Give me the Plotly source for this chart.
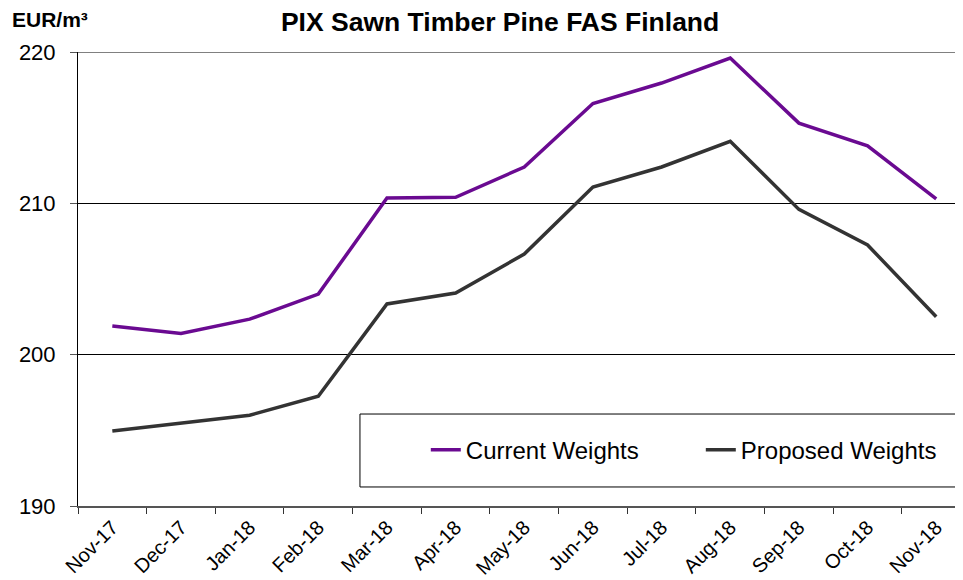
import plotly.graph_objects as go

months = ["Nov-17", "Dec-17", "Jan-18", "Feb-18", "Mar-18", "Apr-18", "May-18",
          "Jun-18", "Jul-18", "Aug-18", "Sep-18", "Oct-18", "Nov-18"]
current_weights = [201.9, 201.4, 202.35, 204.0, 210.35, 210.4, 212.4,
                   216.6, 217.95, 219.6, 215.3, 213.8, 210.3]
proposed_weights = [194.95, 195.5, 196.0, 197.25, 203.35, 204.07, 206.65,
                    211.08, 212.4, 214.1, 209.6, 207.25, 202.5]
y_ticks = [190, 200, 210, 220]

FONT = "Liberation Sans, Arial, sans-serif"

fig = go.Figure()
fig.add_trace(go.Scatter(x=months, y=current_weights, mode="lines",
                         name="Current Weights",
                         line=dict(color="#6a0a91", width=3.5)))
fig.add_trace(go.Scatter(x=months, y=proposed_weights, mode="lines",
                         name="Proposed Weights",
                         line=dict(color="#333333", width=3.5)))

fig.update_layout(
    width=963, height=580,
    margin=dict(l=70, r=8, t=44, b=82, autoexpand=False),
    paper_bgcolor="white", plot_bgcolor="white",
    font=dict(family=FONT, size=20, color="black"),
    title=dict(text="<b>PIX Sawn Timber Pine FAS Finland</b>",
               x=0.511, xanchor="center", y=0.976, yanchor="middle",
               font=dict(size=26.5, family=FONT)),
    showlegend=True,
    legend=dict(orientation="h", x=0.393, xanchor="left", y=0.123, yanchor="middle",
                font=dict(size=24, family=FONT), bgcolor="rgba(0,0,0,0)",
                entrywidth=230, entrywidthmode="pixels"),
    xaxis=dict(type="category", range=[-0.5, 12.39], tickangle=-45,
               ticks="outside", ticklen=6, tickcolor="#333", tickson="boundaries",
               showline=True, linecolor="#555", linewidth=1.5, showgrid=False,
               tickfont=dict(size=20)),
    yaxis=dict(range=[190, 220], tickvals=y_ticks, ticks="outside", ticklen=7,
               tickcolor="#555", showline=True, linecolor="black", linewidth=1,
               showgrid=True, gridcolor="black", gridwidth=1, zeroline=False,
               ticklabelstandoff=10, tickfont=dict(size=22)),
    shapes=[
        dict(type="rect", xref="paper", yref="paper", x0=0.3186, x1=0.9989,
             y0=0.0419, y1=0.2026, line=dict(color="black", width=1),
             fillcolor="rgba(0,0,0,0)", layer="above"),
        dict(type="line", xref="paper", yref="y", x0=0, x1=1, y0=220, y1=220,
             line=dict(color="#808080", width=2))
    ],
    annotations=[
        dict(text="<b>EUR/m³</b>", xref="paper", yref="paper", x=-0.0768, y=1.0705,
             xanchor="left", yanchor="middle", showarrow=False,
             font=dict(size=21, family=FONT))
    ],
)

fig.write_html("out.html")
